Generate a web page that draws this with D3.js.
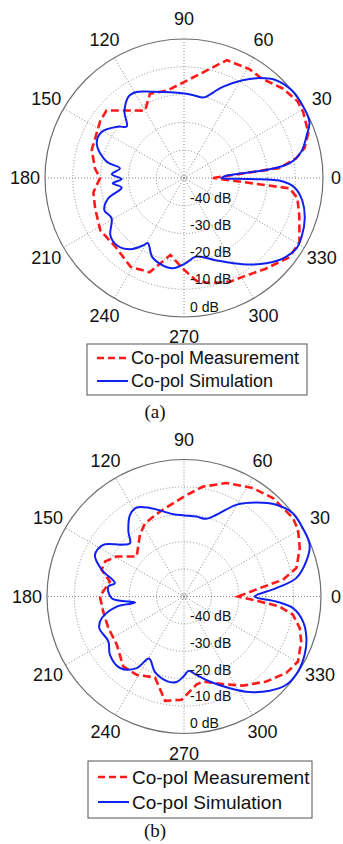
<!DOCTYPE html>
<html>
<head>
<meta charset="utf-8">
<script src="https://cdn.jsdelivr.net/npm/d3@7/dist/d3.min.js"></script>
<style>
  body { margin: 0; background: #fff; }
  svg text { font-family: "Liberation Sans", Arial, sans-serif; fill: #111; }
</style>
</head>
<body>
<svg id="fig" width="343" height="844"></svg>
<script>
// ---- data (angle in degrees, gain in dB) ----
const angleTicks = d3.range(0, 360, 30);
const ringTicks = [-40, -30, -20, -10, 0];
const dbFloor = -50;
const seriesNames = ['Co-pol Measurement', 'Co-pol Simulation'];
const captions = ['(a)', '(b)'];

// (a) measurement
const measAngleA = [0, 6, 10, 14, 20, 29, 34, 42, 52, 59, 70, 90, 101, 112, 120, 139, 146, 163, 174, 180,
  189, 199, 212, 226, 239, 250, 260, 269, 277, 284, 294, 301, 312, 323, 331, 342, 350, 354.4];
const measDbA = [-39.6, -15.4, -9, -5.3, -2.4, -1, -0.7, -2, -4.6, -4.3, -4.9, -15.5, -18, -17.3, -22, -13, -13.6, -15.3, -17.8, -19.8,
  -17, -16.2, -14.5, -15, -12.7, -13.9, -21.9, -17.5, -12.7, -11, -9.2, -8.6, -6.1, -2.6, -2.5, -6.4, -8.6, -11.8];

// (a) simulation
const simAngleA = [0, 3, 5, 5.6, 8, 12.6, 19.3, 24, 31, 39, 47, 53, 59, 67, 75, 77, 84, 91, 110, 119, 124, 132, 138, 142,
  151, 159, 168, 171.4, 177, 181, 184.3, 188.8, 195, 202, 209, 218, 225, 233, 239, 241, 248, 256, 263, 271, 279,
  291, 300, 307, 314, 321, 328, 334, 341.5, 349, 355, 358, 359.1];
const simDbA = [-36.5, -34.7, -26.3, -20.3, -11.6, -6.8, -3.2, -0.6, 0, 0, -1.8, -5, -9, -14.4, -19.8, -20.3, -20, -19.5, -17, -14.6, -14.5, -18, -22.3, -20,
  -16, -16.4, -21.5, -26.7, -24, -27.6, -24.3, -27.3, -21.8, -19.1, -20.2, -16.4, -15.8, -17.9, -21.8, -23.2, -19.4, -17.7, -17.3, -19.3, -21.4,
  -18.3, -14.6, -11, -7.4, -4.1, -2.3, -2.8, -4.2, -6.6, -10, -14.4, -26.4];

// (b) measurement
const measAngleB = [0, 6.3, 9.6, 14.2, 22.7, 30.3, 35.7, 47.9, 57.5, 69.5, 80.2, 90, 105.8, 118, 125.5, 139.8, 149.3, 156.1, 162, 168.5,
  180, 190.5, 202.7, 215.7, 229, 238.9, 250.3, 259.7, 268.7, 278, 282.6, 294, 303.5, 314.1, 323.2, 330.3, 339, 344.7, 350.5, 354, 356.2];
const measDbB = [-30.3, -22.2, -13.4, -7.7, -4.2, -1.8, -1, -1.6, -3.1, -5.8, -9.3, -13.5, -17.8, -19.7, -22.3, -27.4, -21.4, -18.5, -18.4, -22.4,
  -19.3, -20, -20.1, -19.8, -16.2, -16.6, -18.6, -11.3, -12.3, -17.5, -18.2, -15, -11, -6.8, -3.4, -2.1, -4.2, -6.2, -9.7, -14.9, -22.3];

// (b) simulation
const simAngleB = [0, 5.2, 9.3, 16, 22.4, 29.5, 37.4, 44.8, 52.4, 60.3, 68.4, 74, 81.3, 90, 97.4, 111, 118, 123.5, 130.6, 135.3, 140.3,
  147.4, 154.9, 162, 169, 172.5, 181.3, 187, 188.5, 194.7, 200.5, 210.7, 218.2, 228.2, 236.6, 240.6, 248.9, 258.5, 265, 270, 273.5, 279,
  286.8, 296.5, 304.5, 312.3, 319.2, 326.7, 334.2, 341.2, 348.1, 353.9, 356.9];
const simDbB = [-24.2, -16.2, -8.5, -3.6, -0.4, 0, 0, -2.5, -6.7, -11.5, -17.9, -20.5, -20.5, -20.4, -19.7, -15.4, -13.2, -14.3, -18.8, -22.3, -20.4,
  -15, -14.1, -18.4, -24.3, -22.1, -23.6, -32, -25.2, -19, -17, -17.9, -15.6, -15, -18.7, -24, -20.5, -18.5, -18.7, -21, -22.8, -21,
  -17.6, -12.6, -7.7, -3.5, -0.7, -0.2, -1.1, -2.8, -5.6, -10, -16.3];

const svg = d3.select('#fig');
const pageW = 343;

function drawPolar(o) {
    let r = d3.scaleLinear().domain([dbFloor, 0]).range([0, o.radius]);
    // polar angle (ccw from east) -> d3 radial angle (cw from north)
    let ang = d3.scaleLinear().domain([0, 360]).range([Math.PI / 2, Math.PI / 2 - 2 * Math.PI]);

    let g = svg.append('g').attr('transform', `translate(${o.cx},${o.cy})`);

    // dotted rings and spokes
    g.selectAll('.ring')
        .data(ringTicks.slice(0, -1))
        .join('circle')
        .attr('class', 'ring')
        .attr('r', d => r(d))
        .attr('fill', 'none')
        .attr('stroke', '#8a8a8a')
        .attr('stroke-width', 1)
        .attr('stroke-dasharray', '1,2');

    g.append('circle')
        .attr('r', 2.5)
        .attr('fill', 'none')
        .attr('stroke', '#8a8a8a')
        .attr('stroke-dasharray', '1,1');

    g.selectAll('.spoke')
        .data(angleTicks)
        .join('line')
        .attr('class', 'spoke')
        .attr('x1', 0).attr('y1', 0)
        .attr('x2', d => o.radius * Math.sin(ang(d)))
        .attr('y2', d => -o.radius * Math.cos(ang(d)))
        .attr('stroke', '#8a8a8a')
        .attr('stroke-width', 1)
        .attr('stroke-dasharray', '1,2');

    g.append('circle')
        .attr('r', r(0))
        .attr('fill', 'none')
        .attr('stroke', '#6e6e6e')
        .attr('stroke-width', 1.2);

    // angle labels (the "0" sits right at the page edge, keep it inside)
    let maxX = pageW - o.cx - 7;
    g.selectAll('.alabel')
        .data(angleTicks)
        .join('text')
        .attr('class', 'alabel')
        .attr('x', d => Math.min(maxX, o.labelR * Math.sin(ang(d))))
        .attr('y', d => -o.labelR * Math.cos(ang(d)))
        .attr('text-anchor', 'middle')
        .attr('dominant-baseline', 'central')
        .style('font-size', '18px')
        .text(d => d);

    // curves
    let line = d3.lineRadial()
        .angle(d => ang(d[0]))
        .radius(d => r(d[1]));

    g.append('path')
        .datum(d3.zip(o.measAngle, o.measDb))
        .attr('d', line.curve(d3.curveLinearClosed))
        .attr('fill', 'none')
        .attr('stroke', '#ff1a1a')
        .attr('stroke-width', 2.6)
        .attr('stroke-dasharray', '8,4');

    g.append('path')
        .datum(d3.zip(o.simAngle, o.simDb))
        .attr('d', line.curve(d3.curveCatmullRomClosed.alpha(0.5)))
        .attr('fill', 'none')
        .attr('stroke', '#1020ee')
        .attr('stroke-width', 2);

    // dB labels on top
    g.selectAll('.rlabel')
        .data(ringTicks)
        .join('text')
        .attr('class', 'rlabel')
        .attr('x', 6)
        .attr('y', d => 0.98 * r(d) - 2.5)
        .style('font-size', '14px')
        .text(d => `${d} dB`);

    // legend
    let lg = o.legend;
    let leg = svg.append('g').attr('transform', `translate(${lg.x},${lg.y})`);
    leg.append('rect')
        .attr('width', lg.w).attr('height', lg.h)
        .attr('fill', '#fff')
        .attr('stroke', '#555')
        .attr('stroke-width', 1);

    let styles = [
        { stroke: '#ff1a1a', width: 2.6, dash: '7,4' },
        { stroke: '#1020ee', width: 2, dash: null }
    ];
    seriesNames.forEach((name, i) => {
        let y = lg.row0 + i * lg.rowGap;
        leg.append('line')
            .attr('x1', 10).attr('x2', 41)
            .attr('y1', y).attr('y2', y)
            .attr('stroke', styles[i].stroke)
            .attr('stroke-width', styles[i].width)
            .attr('stroke-dasharray', styles[i].dash);
        leg.append('text')
            .attr('x', 44).attr('y', y)
            .attr('dominant-baseline', 'central')
            .style('font-size', lg.font + 'px')
            .text(name);
    });

    svg.append('text')
        .attr('x', o.caption.x).attr('y', o.caption.y)
        .attr('text-anchor', 'middle')
        .style('font-family', '"Liberation Serif", "Times New Roman", serif')
        .style('font-size', '19px')
        .text(o.caption.text);
}

drawPolar({
    cx: 184, cy: 178, radius: 139, labelR: 159,
    measAngle: measAngleA, measDb: measDbA, simAngle: simAngleA, simDb: simDbA,
    legend: { x: 87, y: 344, w: 220, h: 51, row0: 14, rowGap: 23, font: 18 },
    caption: { x: 155, y: 418, text: captions[0] }
});

drawPolar({
    cx: 184, cy: 596.5, radius: 137, labelR: 157,
    measAngle: measAngleB, measDb: measDbB, simAngle: simAngleB, simDb: simDbB,
    legend: { x: 88, y: 761, w: 224, h: 57, row0: 16, rowGap: 25, font: 19 },
    caption: { x: 155, y: 837, text: captions[1] }
});
</script>
</body>
</html>
